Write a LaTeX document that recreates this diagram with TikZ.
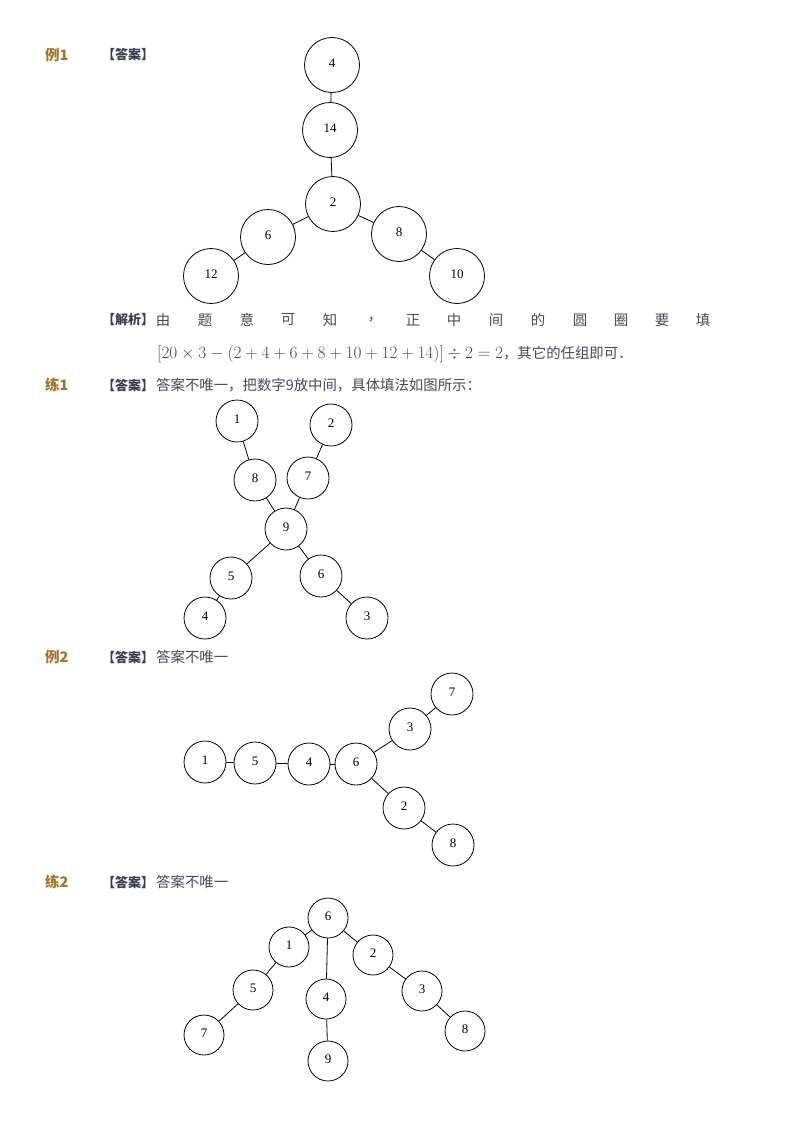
\documentclass[tikz,border=0pt]{standalone}
\usepackage{fontspec}
\setmainfont{Liberation Serif}
\newfontfamily\cjk{Noto Sans CJK SC}
\definecolor{headgold}{RGB}{163,115,40}
\definecolor{tagcol}{RGB}{58,60,84}
\definecolor{bodycol}{RGB}{72,72,88}
\tikzset{
  numc/.style={circle, draw, line width=0.8pt, inner sep=0pt, text depth=4pt, font=\fontsize{13}{13}\selectfont},
  bigc/.style={numc, minimum size=55pt},
  midc/.style={numc, minimum size=42pt},
  smlc/.style={numc, minimum size=40pt},
  link/.style={line width=0.8pt},
  head/.style={anchor=west, inner sep=0pt, text=headgold, font=\cjk\bfseries\fontsize{14.5}{16}\selectfont},
  tag/.style={anchor=west, inner sep=0pt, text=tagcol, font=\cjk\bfseries\fontsize{13}{15}\selectfont},
  body/.style={anchor=west, inner sep=0pt, text=bodycol, font=\cjk\fontsize{14.4}{16}\selectfont},
  spread/.style={inner sep=0pt, text=bodycol, font=\cjk\fontsize{14.4}{16}\selectfont}
}
\begin{document}
\begin{tikzpicture}[x=1pt,y=-1pt]
\useasboundingbox (0,0) rectangle (800,1132);

% ---------- 例1 ----------
\node[head] (h1) at (45,55) {例1};
\node[tag] (t1) at (102,55) {【答案】};

\node[bigc] (a4)  at (332,65)  {4};
\node[bigc] (a14) at (330,130) {14};
\node[bigc] (a2)  at (333,204) {2};
\node[bigc] (a6)  at (268,237) {6};
\node[bigc] (a8)  at (399,234) {8};
\node[bigc] (a12) at (211,276) {12};
\node[bigc] (a10) at (457,276) {10};
\draw[link] (a4) -- (a14);
\draw[link] (a14) -- (a2);
\draw[link] (a2) -- (a6);
\draw[link] (a6) -- (a12);
\draw[link] (a2) -- (a8);
\draw[link] (a8) -- (a10);

\node[tag] (j1) at (102,320) {【解析】};
\node[spread] (c1)  at (163,320) {由};
\node[spread] (c2)  at (205,320) {题};
\node[spread] (c3)  at (247,320) {意};
\node[spread] (c4)  at (288,320) {可};
\node[spread] (c5)  at (330,320) {知};
\node[spread] (c6)  at (375,320) {，};
\node[spread] (c7)  at (413,320) {正};
\node[spread] (c8)  at (454,320) {中};
\node[spread] (c9)  at (496,320) {间};
\node[spread] (c10) at (538,320) {的};
\node[spread] (c11) at (580,320) {圆};
\node[spread] (c12) at (621,320) {圈};
\node[spread] (c13) at (662,320) {要};
\node[spread] (c14) at (703,320) {填};
\node[body] (m1) at (157,354) {\fontsize{16.2}{18}\selectfont$[20\times3-(2+4+6+8+10+12+14)]\div2=2$\fontsize{14.4}{16}\selectfont，其它的任组即可．};

% ---------- 练1 ----------
\node[head] (h2) at (45,385) {练1};
\node[tag] (t2) at (102,385) {【答案】};
\node[body] (b2) at (156,385) {答案不唯一，把数字9放中间，具体填法如图所示：};

\node[midc] (p1) at (237,421) {1};
\node[midc] (p2) at (331,425) {2};
\node[midc] (p8) at (255,480) {8};
\node[midc] (p7) at (308,478) {7};
\node[midc] (p9) at (286,529) {9};
\node[midc] (p5) at (231,578) {5};
\node[midc] (p6) at (321,576) {6};
\node[midc] (p4) at (205,618) {4};
\node[midc] (p3) at (367,618) {3};
\draw[link] (p1) -- (p8);
\draw[link] (p2) -- (p7);
\draw[link] (p8) -- (p9);
\draw[link] (p7) -- (p9);
\draw[link] (p9) -- (p5);
\draw[link] (p9) -- (p6);
\draw[link] (p5) -- (p4);
\draw[link] (p6) -- (p3);

% ---------- 例2 ----------
\node[head] (h3) at (45,657) {例2};
\node[tag] (t3) at (102,657) {【答案】};
\node[body] (b3) at (156,657) {答案不唯一};

\node[midc] (e1) at (205,762) {1};
\node[midc] (e5) at (255,763) {5};
\node[midc] (e4) at (309,764) {4};
\node[midc] (e6) at (356,764) {6};
\node[midc] (e3) at (410,729) {3};
\node[midc] (e7) at (452,694) {7};
\node[midc] (e2) at (404,808) {2};
\node[midc] (e8) at (453,845) {8};
\draw[link] (e1) -- (e5);
\draw[link] (e5) -- (e4);
\draw[link] (e4) -- (e6);
\draw[link] (e6) -- (e3);
\draw[link] (e3) -- (e7);
\draw[link] (e6) -- (e2);
\draw[link] (e2) -- (e8);

% ---------- 练2 ----------
\node[head] (h4) at (45,882) {练2};
\node[tag] (t4) at (102,882) {【答案】};
\node[body] (b4) at (156,882) {答案不唯一};

\node[smlc] (q6) at (328,918)  {6};
\node[smlc] (q1) at (289,947)  {1};
\node[smlc] (q2) at (373,955)  {2};
\node[smlc] (q5) at (253,990)  {5};
\node[smlc] (q4) at (326,999)  {4};
\node[smlc] (q3) at (422,991)  {3};
\node[smlc] (q7) at (204,1035) {7};
\node[smlc] (q9) at (328,1061) {9};
\node[smlc] (q8) at (465,1031) {8};
\draw[link] (q6) -- (q1);
\draw[link] (q6) -- (q4);
\draw[link] (q6) -- (q2);
\draw[link] (q1) -- (q5);
\draw[link] (q5) -- (q7);
\draw[link] (q4) -- (q9);
\draw[link] (q2) -- (q3);
\draw[link] (q3) -- (q8);
\end{tikzpicture}
\end{document}
